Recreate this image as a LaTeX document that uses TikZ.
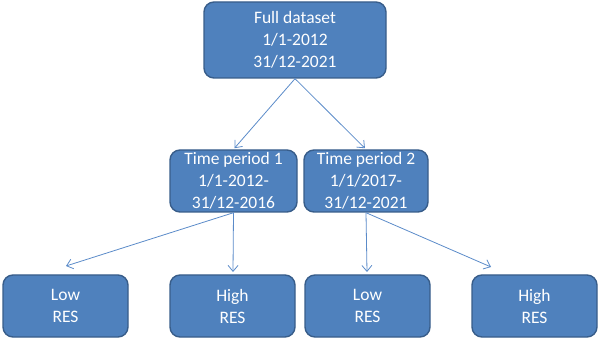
\documentclass[tikz,border=0pt]{standalone}
\usepackage{fontspec}
\setmainfont{Carlito}
\usetikzlibrary{arrows.meta}
\definecolor{boxfill}{HTML}{4F81BD}
\definecolor{boxline}{HTML}{385D8A}
\definecolor{arrcol}{HTML}{5B8BC9}
\tikzset{
  box/.style={draw=boxline, line width=1.4pt, fill=boxfill, rounded corners=10pt,
    text=white, align=center, inner sep=0pt,
    font=\fontsize{17.5}{22}\selectfont},
  arr/.style={draw=arrcol, line width=0.8pt, -{Straight Barb[length=6pt,width=10pt]}}
}
\begin{document}
\begin{tikzpicture}[x=1pt,y=-1pt]
\useasboundingbox (0,0) rectangle (600,339);
\node[box, minimum width=182pt, minimum height=76pt] (top) at (295,40) {Full dataset\\1/1-2012\\31/12-2021};
\node[box, minimum width=127pt, minimum height=62pt] (tp1) at (233.5,181) {Time period 1\\1/1-2012-\\31/12-2016};
\node[box, minimum width=124pt, minimum height=62pt] (tp2) at (366,181) {Time period 2\\1/1/2017-\\31/12-2021};
\node[box, minimum width=125pt, minimum height=62pt] (l1) at (65.5,306) {Low\\RES};
\node[box, minimum width=125pt, minimum height=62pt] (h1) at (232.5,306) {High\\RES};
\node[box, minimum width=125pt, minimum height=62pt] (l2) at (367.5,306) {Low\\RES};
\node[box, minimum width=125pt, minimum height=62pt] (h2) at (534.5,306) {High\\RES};
\coordinate (t1) at (66,266);
\coordinate (t2) at (233,272);
\coordinate (t3) at (367,272);
\coordinate (t4) at (491,267);
\draw[arr, shorten >=1.5pt] (top.south) -- (tp1.north);
\draw[arr, shorten >=1.5pt] (top.south) -- (tp2.north);
\draw[arr] (tp1.south) -- (t1);
\draw[arr] (tp1.south) -- (t2);
\draw[arr] (tp2.south) -- (t3);
\draw[arr] (tp2.south) -- (t4);
\end{tikzpicture}
\end{document}
